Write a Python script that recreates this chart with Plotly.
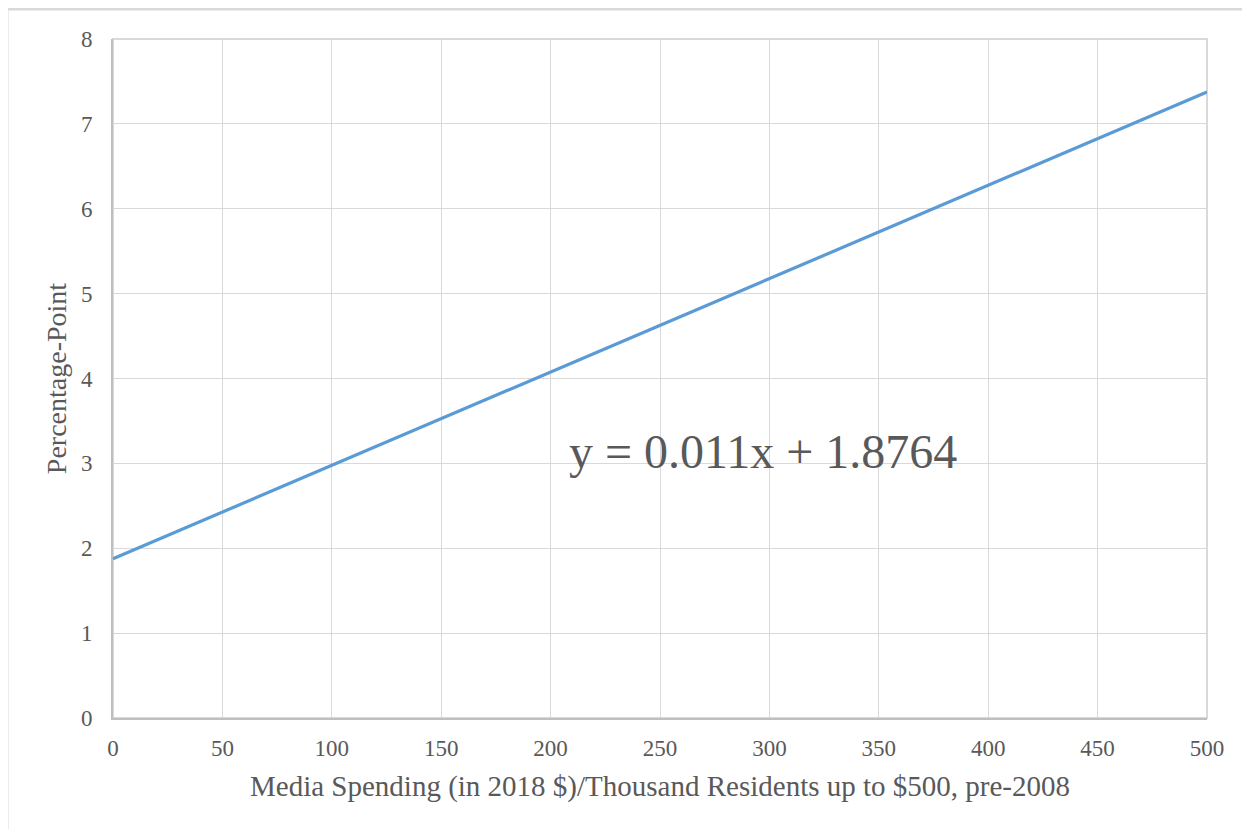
import plotly.graph_objects as go

# trendline end points
spending = [0, 500]
pct_point = [1.8764, 7.3764]
x_ticks = [0, 50, 100, 150, 200, 250, 300, 350, 400, 450, 500]
y_ticks = [0, 1, 2, 3, 4, 5, 6, 7, 8]
equation = "y = 0.011x + 1.8764"

font_family = "Liberation Serif, Times New Roman, serif"
grey = "#595959"

fig = go.Figure()
fig.add_trace(go.Scatter(
    x=spending, y=pct_point, mode="lines",
    line=dict(color="#5b9bd5", width=3.2), showlegend=False,
))

fig.update_xaxes(
    range=[0, 500], tickvals=x_ticks, showgrid=True, gridcolor="#d9d9d9", gridwidth=1,
    showline=True, linecolor="#bfbfbf", linewidth=2, zeroline=False, mirror=False,
    ticks="", ticklabelstandoff=8, tickfont=dict(size=23, color=grey, family=font_family),
    title=dict(text="Media Spending (in 2018 $)/Thousand Residents up to $500, pre-2008",
               font=dict(size=29, color=grey, family=font_family), standoff=16),
)
fig.update_yaxes(
    range=[0, 8], tickvals=y_ticks, showgrid=True, gridcolor="#d9d9d9", gridwidth=1,
    showline=True, linecolor="#bfbfbf", linewidth=2, zeroline=False,
    ticks="", ticklabelstandoff=14, tickfont=dict(size=23, color=grey, family=font_family),
    title=dict(text="Percentage-Point", font=dict(size=28, color=grey, family=font_family),
               standoff=6),
)

fig.add_annotation(
    x=0.5946, y=0.392, xref="paper", yref="paper", text=equation, showarrow=False,
    font=dict(size=48, color=grey, family=font_family),
)

# plot area top/right edges and outer chart border
fig.add_shape(type="rect", xref="paper", yref="paper", x0=0, y0=0, x1=1, y1=1,
              line=dict(color="#d9d9d9", width=2), layer="below")
fig.add_shape(type="rect", xref="paper", yref="paper", x0=-0.0969, y0=-0.2, x1=1.1, y1=1.0442,
              line=dict(color="#d9d9d9", width=3))

fig.update_layout(
    width=1250, height=829,
    margin=dict(l=105, r=51, t=31, b=119),
    paper_bgcolor="white", plot_bgcolor="white",
)

fig.write_html("out.html")
